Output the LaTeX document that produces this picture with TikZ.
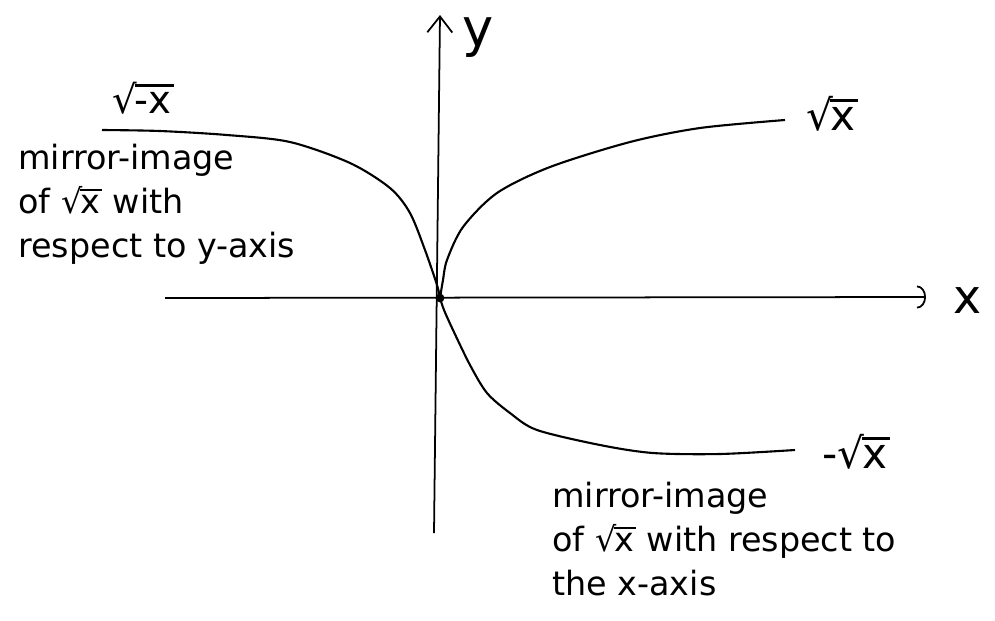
\documentclass[tikz,border=0pt]{standalone}
\usepackage{fontspec}
\setmainfont{DejaVu Sans}
\usepackage{xcolor}
\usepackage{tikz}
\usetikzlibrary{arrows.meta}
\newcommand{\rootof}[1]{\mbox{√\kern-0.06em\vbox{\hrule height 0.07em\kern0.13em\hbox{#1\kern0.06em}}}}

\begin{document}
\begin{tikzpicture}[x=0.02cm, y=-0.02cm,
    axis/.style={line width=1pt, black},
    curve/.style={line width=1.2pt, black, smooth},
    lbl/.style={font=\fontsize{24}{28}\selectfont, inner sep=0pt},
    note/.style={font=\fontsize{19}{25}\selectfont, align=left, inner sep=0pt, anchor=north west}]
  \useasboundingbox (0,0) rectangle (995,620);
  % axes
  \coordinate (O) at (440,298);
  \coordinate (ybot) at (434,533);
  \coordinate (ytop) at (440,15);
  \coordinate (xleft) at (165,298);
  \coordinate (xright) at (926,297);
  \draw[axis, -{Straight Barb[length=0.32cm, width=0.5cm]}] (ybot) -- (ytop);
  \draw[axis, -{Arc Barb[length=0.18cm, width=0.46cm]}] (xleft) -- (xright);
  \node[lbl, font=\fontsize{30}{34}\selectfont, anchor=base] (ylab) at (478,46) {y};
  \node[lbl, font=\fontsize{27}{30}\selectfont, anchor=base] (xlab) at (968,313) {x};
  % the three curves
  \draw[curve] plot coordinates {(O) (443,280) (447,260) (463,227) (497,193)
    (550,167) (630,142) (700,128) (785,120)};
  \draw[curve] plot coordinates {(O) (437,285) (425,250) (410,213) (390,188)
    (350,163) (290,142) (227,135) (160,131) (102,130)};
  \draw[curve] plot coordinates {(O) (444,310) (453,330) (470,365) (487,393)
    (510,413) (537,430) (600,445) (653,453) (720,454) (795,450)};
  \fill (O) circle (2.5pt);
  % labels
  \node[lbl] (sqrtx) at (832,114) {\rootof{x}};
  \node[lbl, font=\fontsize{22}{26}\selectfont] (sqrtmx) at (143,98) {\rootof{-x}};
  \node[lbl] (msqrtx) at (856,452) {-\rootof{x}};
  \node[note] (yref) at (18,144) {mirror-image\\ of \rootof{x} with\\ respect to y-axis};
  \node[note] (xref) at (552,482) {mirror-image\\ of \rootof{x} with respect to\\ the x-axis};
\end{tikzpicture}
\end{document}
